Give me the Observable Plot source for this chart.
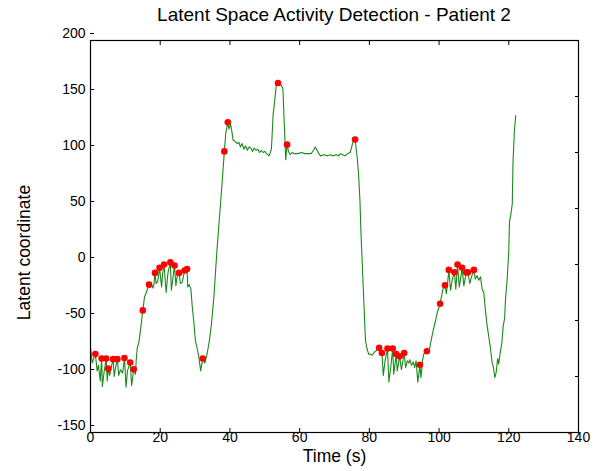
<!DOCTYPE html>
<html><head><meta charset="utf-8">
<script src="https://cdn.jsdelivr.net/npm/d3@7"></script>
<script src="https://cdn.jsdelivr.net/npm/@observablehq/plot@0.6"></script>
<style>
body{margin:0;background:#fff;font-family:"Liberation Sans",Arial,sans-serif;}
#title{width:612px;height:24px;box-sizing:border-box;padding-top:5px;padding-left:90px;padding-right:34px;text-align:center;font-size:19px;line-height:20px;color:#000;white-space:nowrap;overflow:visible;}
</style></head><body>
<div id="title">Latent Space Activity Detection - Patient 2</div>
<div id="chart"></div>
<script>
const time = [0,0.5,0.9,1.4,1.9,2.3,2.8,3.2,3.4,3.9,4.5,4.8,5.1,5.5,6.0,6.5,6.8,7.2,7.7,8.1,8.6,9.2,9.75,10.2,10.6,11.4,11.8,12.4,12.9,13.1,13.4,13.9,14.3,15.0,15.5,16.0,16.8,17.3,17.9,18.2,18.5,18.8,19.3,19.8,20.4,20.7,21.1,21.7,22.2,22.9,23.2,24.1,24.5,24.9,25.4,25.8,26.3,27.0,27.7,27.9,28.3,28.8,29.2,29.6,30.1,30.6,31.1,31.6,32.2,32.8,33.5,34.1,34.7,35.4,35.9,36.4,37.0,37.8,38.4,38.8,39.4,39.7,40.2,40.5,40.9,41.5,42.1,42.6,43.0,43.5,44.0,44.5,45.0,45.5,46.0,46.5,47.0,47.5,48.0,48.5,49.0,49.5,50.0,50.5,51.2,51.6,51.9,52.4,52.8,53.3,53.8,54.7,55.2,55.6,56.0,56.4,56.8,57.3,57.8,58.5,59.5,60.5,61.5,62.5,63.3,64.0,64.5,65.0,65.5,66.0,67.0,68.0,68.8,69.5,70.5,71.2,71.7,72.3,73.0,73.8,74.5,75.0,75.3,75.9,76.5,76.9,77.3,77.6,78.0,78.4,78.7,78.9,79.3,79.8,80.3,80.8,81.5,82.0,82.8,83.2,83.6,84.0,84.5,85.2,85.6,86.2,86.7,87.0,87.7,88.0,88.7,89.2,90.0,90.4,90.9,91.3,91.6,92.1,92.6,93.0,93.4,93.9,94.5,94.8,95.3,95.6,96.5,97.3,97.7,98.3,99.0,99.4,100.3,101.1,101.7,102.1,102.5,102.8,103.3,103.8,104.4,104.8,105.3,105.8,106.2,106.6,107.1,107.8,108.3,108.8,109.3,110.0,110.4,110.9,111.4,111.9,112.4,112.8,113.3,113.8,114.3,114.7,115.2,115.6,116.0,116.4,116.8,117.1,117.5,118.0,118.4,118.8,119.1,119.5,120.0,120.2,120.6,121.0,121.2,121.6,122.0];
const latent = [-74,-88,-84,-80,-95,-90,-104,-84,-109,-96,-84,-104,-93,-99,-91,-84.5,-100,-92,-84.5,-99,-94,-97,-83.5,-109.5,-95,-87.5,-108,-93.5,-98,-86,-75,-69,-60,-41,-29,-25,-18,-16,-21,-18,-7.5,-17,-15,-3,-20,-8,0,-25,-8,2,-23,-1,-19,-9,-7.5,-17,-16,-5.4,-4,-20,-18,-22,-38,-50,-68,-75,-83,-95,-84,-88,-79,-68,-53,-29,-5,18,42,75,101,117,127,121,125,120,111,110,108,109,105,108,103,106,102,105,104,101,104,102,103,100,102,100,101,99,97,100,103,134,145,160,162,160,157,125,93.5,107,101,98,100,99,99,100,99,99,99,102,105,102,99,97,98,97,98,97,98,97,99,98,97,99,100,106,109,111.6,96,81,57,28,-2,-32,-55,-68,-75,-80,-80,-81,-78,-77,-74.4,-80,-79,-99,-86,-75,-105,-90,-75,-98,-80,-95,-82,-94,-79,-92,-86,-88,-85,-90,-87,-92,-86,-105,-89.6,-101,-85,-80,-77.4,-75,-68,-59,-50,-44,-35,-22,-18.5,-26,-15,-4.8,-23,-13,-7,-22,0,-20,-12,-3,-19,-7.1,-7,-17,-11,-4.8,-13,-10,-14,-11,-23,-24,-41,-55,-65,-74,-87,-92,-101,-96,-84,-89,-80,-70,-55,-48,-29,-15,12,38,45,54,90,119,133];
const peakTime = [1.4,3.2,4.5,5.1,6.5,7.7,9.75,11.4,12.4,15.0,16.8,18.5,19.8,21.1,22.9,24.1,25.4,27.0,27.7,32.2,38.4,39.4,53.8,56.4,75.9,82.8,83.6,85.2,86.7,87.7,88.7,90.0,94.5,96.5,100.3,101.7,102.8,104.4,105.3,106.6,107.8,108.3,110.0];
const peakValue = [-80,-84,-84,-93,-84.5,-84.5,-83.5,-87.5,-93.5,-41,-18,-7.5,-3,0,2,-1,-7.5,-5.4,-4,-84,101,127,162,107,111.6,-74.4,-79,-75,-75,-80,-82,-79,-89.6,-77.4,-35,-18.5,-4.8,-7,0,-3,-7.1,-7,-4.8];
const xTicks = [0,20,40,60,80,100,120,140];
const yTicks = [-150,-100,-50,0,50,100,150,200];
const xLabel = "Time (s)";
const yLabel = "Latent coordinate";

const series = time.map((t, i) => ({t, v: latent[i]}));
const peaks = peakTime.map((t, i) => ({t, v: peakValue[i]}));
const fmt = d => String(d);

const chart = Plot.plot({
  width: 612, height: 447,
  marginTop: 16, marginBottom: 39, marginLeft: 90, marginRight: 34,
  style: {fontFamily: "'Liberation Sans', Arial, sans-serif", fontSize: "14px", color: "black", background: "white", overflow: "visible"},
  x: {domain: [0, 140]},
  y: {domain: [-150, 200]},
  marks: [
    Plot.line(series, {x: "t", y: "v", stroke: "#1a8a1a", strokeWidth: 1.1}),
    Plot.dot(peaks, {x: "t", y: "v", r: 3.3, fill: "red", stroke: "none"}),
    Plot.frame({stroke: "black", strokeWidth: 1.2}),
    Plot.axisX(xTicks, {anchor: "bottom", tickSize: -4, tickPadding: 4, tickFormat: fmt, label: null, fontSize: 14}),
    Plot.axisX(xTicks, {anchor: "top", tickSize: -4, fill: "none", label: null}),
    Plot.axisY(yTicks, {anchor: "left", tickSize: -4, tickPadding: 9, dy: -7, tickFormat: fmt, label: null, fontSize: 14}),
    Plot.axisY(yTicks, {anchor: "right", tickSize: -4, fill: "none", label: null}),
    Plot.text([xLabel], {text: d => d, frameAnchor: "bottom", textAnchor: "middle", dy: 24, fontSize: 17.5, lineAnchor: "middle"}),
    Plot.text([yLabel], {text: d => d, frameAnchor: "left", textAnchor: "middle", rotate: -90, dx: -66, dy: 16, fontSize: 17.5, lineAnchor: "middle"})
  ]
});
document.getElementById("chart").appendChild(chart);
</script>
</body></html>
